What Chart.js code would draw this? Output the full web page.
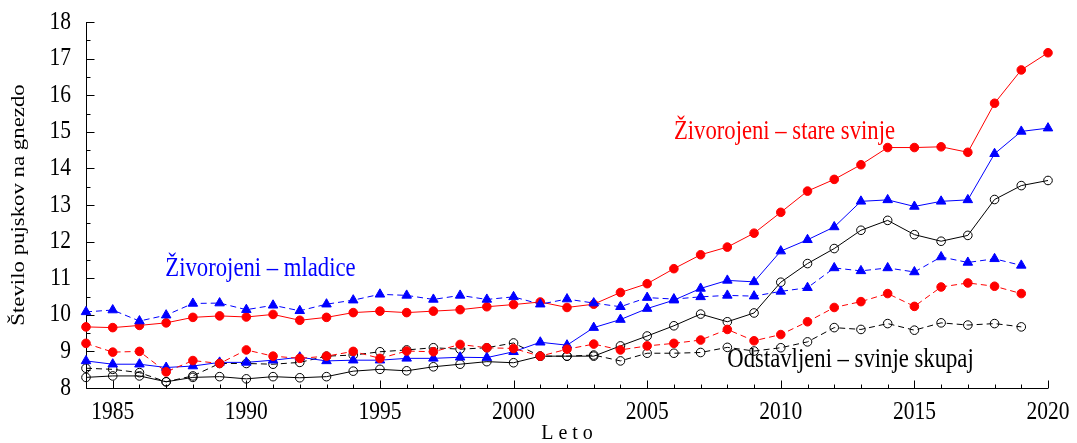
<!DOCTYPE html>
<html>
<head>
<meta charset="utf-8">
<script src="https://cdn.jsdelivr.net/npm/chart.js@4/dist/chart.umd.min.js"></script>
<style>
html, body { margin: 0; padding: 0; background: #fff; }
</style>
</head>
<body>
<canvas id="chart" width="1077" height="443"></canvas>
<script>
var years = [1984, 1985, 1986, 1987, 1988, 1989, 1990, 1991, 1992, 1993, 1994, 1995,
    1996, 1997, 1998, 1999, 2000, 2001, 2002, 2003, 2004, 2005, 2006, 2007, 2008,
    2009, 2010, 2011, 2012, 2013, 2014, 2015, 2016, 2017, 2018, 2019, 2020];

// solid lines, 1984-2020
var zivStare = [9.67, 9.65, 9.71, 9.78, 9.93, 9.97, 9.94, 10.01, 9.85, 9.93, 10.06, 10.10,
    10.06, 10.10, 10.14, 10.22, 10.28, 10.35, 10.20, 10.29, 10.61, 10.85, 11.26, 11.64, 11.85,
    12.23, 12.80, 13.38, 13.70, 14.10, 14.57, 14.57, 14.59, 14.44, 15.78, 16.69, 17.16];
var zivMladice = [8.74, 8.65, 8.65, 8.56, 8.60, 8.70, 8.70, 8.76, 8.84, 8.74, 8.76, 8.76,
    8.81, 8.81, 8.84, 8.83, 8.99, 9.25, 9.17, 9.65, 9.87, 10.17, 10.40, 10.72, 10.94,
    10.90, 11.74, 12.05, 12.40, 13.10, 13.14, 12.96, 13.10, 13.14, 14.40, 15.01, 15.10];
var odstSkupaj = [8.29, 8.33, 8.33, 8.17, 8.29, 8.31, 8.25, 8.31, 8.28, 8.31, 8.46, 8.51,
    8.47, 8.58, 8.65, 8.72, 8.69, 8.87, 8.87, 8.87, 9.15, 9.42, 9.70, 10.02, 9.81,
    10.05, 10.89, 11.40, 11.81, 12.31, 12.58, 12.19, 12.01, 12.17, 13.15, 13.53, 13.67];

// dashed lines, 1984-2019
var zivStareB = [9.22, 8.98, 9.00, 8.44, 8.75, 8.67, 9.04, 8.87, 8.81, 8.87, 9.00, 8.81,
    9.01, 8.99, 9.19, 9.10, 9.08, 8.87, 9.06, 9.20, 9.04, 9.15, 9.22, 9.31, 9.60,
    9.29, 9.46, 9.81, 10.20, 10.36, 10.58, 10.23, 10.76, 10.87, 10.78, 10.58];
var zivMladiceB = [10.08, 10.13, 9.83, 9.99, 10.31, 10.32, 10.14, 10.26, 10.11, 10.29, 10.40, 10.56,
    10.53, 10.42, 10.53, 10.42, 10.49, 10.29, 10.43, 10.32, 10.22, 10.47, 10.43, 10.49, 10.53,
    10.51, 10.64, 10.74, 11.28, 11.20, 11.28, 11.17, 11.58, 11.43, 11.53, 11.35];
var odstSkupajB = [8.54, 8.51, 8.42, 8.17, 8.33, 8.67, 8.67, 8.65, 8.70, 8.87, 8.90, 8.99,
    9.04, 9.10, 9.06, 9.10, 9.23, 8.87, 8.87, 8.90, 8.74, 8.95, 8.95, 8.97, 9.11,
    9.01, 9.10, 9.26, 9.65, 9.60, 9.76, 9.58, 9.78, 9.72, 9.76, 9.67];

var yTicks = [8, 9, 10, 11, 12, 13, 14, 15, 16, 17, 18];
var xLabels = [1985, 1990, 1995, 2000, 2005, 2010, 2015, 2020];

var labels = [
    { text: 'Živorojeni – stare svinje', x: 2006.0, y: 14.80, color: '#ff0000' },
    { text: 'Živorojeni – mladice', x: 1986.97, y: 11.07, color: '#0000ff' },
    { text: 'Odstavljeni – svinje skupaj', x: 2008.0, y: 8.58, color: '#000000' }
];

var RED = '#ff0000', BLUE = '#0000ff', BLACK = '#000000';
var serif = '"Liberation Serif", "DejaVu Serif", serif';
var STRETCH = 1.17; // the reference text is a bit taller than wide

function pts(values) {
    var out = [];
    for (var i = 0; i < values.length; i++) {
        out.push({ x: years[i], y: values[i] });
    }
    return out;
}

function series(values, color, dashed, style, filled) {
    return {
        data: pts(values),
        borderColor: color,
        borderWidth: 1,
        borderDash: dashed ? [6, 4] : [],
        pointStyle: style,
        pointRadius: style === 'triangle' ? 5.5 : 4.3,
        pointBackgroundColor: filled ? color : 'rgba(0,0,0,0)',
        pointBorderColor: color,
        pointBorderWidth: 1,
        tension: 0,
        clip: false
    };
}

function tallText(ctx, text, x, y) {
    ctx.save();
    ctx.translate(x, y);
    ctx.scale(1, STRETCH);
    ctx.fillText(text, 0, 0);
    ctx.restore();
}

var axesPlugin = {
    id: 'axesPlugin',
    beforeDatasetsDraw: function (chart) {
        var ctx = chart.ctx;
        var a = chart.chartArea;
        var sx = chart.scales.x, sy = chart.scales.y;
        var left = Math.round(a.left) + 0.5, bottom = Math.round(a.bottom) + 0.5;
        ctx.save();
        ctx.strokeStyle = '#000';
        ctx.lineWidth = 1;
        ctx.beginPath();
        ctx.moveTo(left, a.top);
        ctx.lineTo(left, bottom);
        ctx.lineTo(a.right, bottom);
        for (var yr = years[0]; yr <= years[years.length - 1]; yr++) {
            var px = Math.round(sx.getPixelForValue(yr)) + 0.5;
            var len = yr % 5 === 0 ? 8 : 4;
            ctx.moveTo(px, bottom);
            ctx.lineTo(px, bottom - len);
        }
        for (var v = yTicks[0]; v <= yTicks[yTicks.length - 1]; v += 0.5) {
            var py = Math.round(sy.getPixelForValue(v)) + 0.5;
            var l = v % 1 === 0 ? 8 : 4;
            ctx.moveTo(left, py);
            ctx.lineTo(left + l, py);
        }
        ctx.stroke();

        // tick labels
        ctx.fillStyle = '#000';
        ctx.font = '21.5px ' + serif;
        ctx.textBaseline = 'middle';
        ctx.textAlign = 'right';
        yTicks.forEach(function (t) {
            tallText(ctx, String(t), a.left - 15, sy.getPixelForValue(t));
        });
        ctx.textAlign = 'center';
        xLabels.forEach(function (t) {
            tallText(ctx, String(t), sx.getPixelForValue(t), a.bottom + 24);
        });

        // axis titles
        ctx.font = '20px ' + serif;
        ctx.textBaseline = 'middle';
        ctx.fillText('L e t o', (a.left + a.right) / 2, a.bottom + 46);

        ctx.save();
        ctx.translate(19, (a.top + a.bottom) / 2);
        ctx.rotate(-Math.PI / 2);
        ctx.scale(STRETCH, 1);
        ctx.font = '19.5px ' + serif;
        ctx.textAlign = 'center';
        ctx.fillText('Število pujskov na gnezdo', 0, 0);
        ctx.restore();

        ctx.restore();
    },
    afterDraw: function (chart) {
        var ctx = chart.ctx;
        var sx = chart.scales.x, sy = chart.scales.y;
        ctx.save();
        ctx.font = '22.7px ' + serif;
        ctx.textBaseline = 'alphabetic';
        ctx.textAlign = 'left';
        labels.forEach(function (lb) {
            ctx.fillStyle = lb.color;
            tallText(ctx, lb.text, sx.getPixelForValue(lb.x), sy.getPixelForValue(lb.y));
        });
        ctx.restore();
    }
};

new Chart(document.getElementById('chart').getContext('2d'), {
    type: 'line',
    data: {
        datasets: [
            series(zivMladiceB, BLUE, true, 'triangle', true),
            series(zivStare, RED, false, 'circle', true),
            series(zivStareB, RED, true, 'circle', true),
            series(zivMladice, BLUE, false, 'triangle', true),
            series(odstSkupajB, BLACK, true, 'circle', false),
            series(odstSkupaj, BLACK, false, 'circle', false)
        ]
    },
    options: {
        responsive: false,
        animation: false,
        layout: { padding: { top: 22, right: 29, left: 0, bottom: 0 } },
        plugins: {
            legend: { display: false },
            tooltip: { enabled: false }
        },
        scales: {
            x: {
                type: 'linear',
                min: 1984,
                max: 2020,
                grid: { display: false },
                border: { display: false },
                ticks: { display: false },
                afterFit: function (scale) { scale.height = 55; }
            },
            y: {
                min: 8,
                max: 18,
                grid: { display: false },
                border: { display: false },
                ticks: { display: false },
                afterFit: function (scale) { scale.width = 86; }
            }
        }
    },
    plugins: [axesPlugin]
});
</script>
</body>
</html>
